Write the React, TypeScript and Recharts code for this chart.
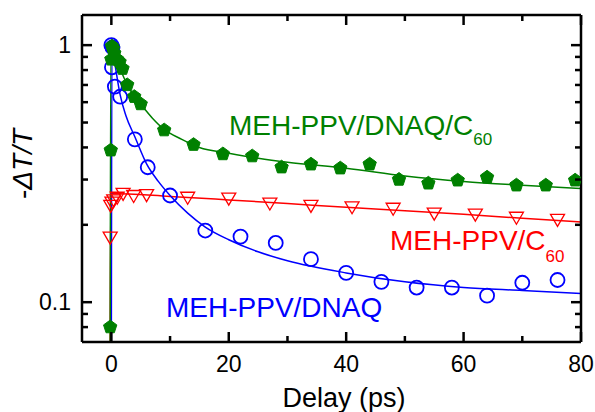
import React from 'react';
import { ComposedChart, Line, Scatter, XAxis, YAxis } from 'recharts';

const FONT = '"Liberation Sans", Arial, sans-serif';
const GREEN = '#008000';
const BLUE = '#0000ff';
const RED = '#ff0000';

// measured points: MEH-PPV/DNAQ/C60
const greenX = [-0.2, -0.1, 0, 0.1, 0.3, 0.5, 1, 1.4, 1.9, 2.7, 3.9, 5, 9, 14, 19, 24, 29, 34, 39, 44, 49, 54, 59, 64, 69, 74, 79];
const greenY = [0.08, 0.39, 0.88, 0.99, 0.97, 0.93, 0.88, 0.86, 0.81, 0.7, 0.63, 0.59, 0.467, 0.41, 0.377, 0.37, 0.335, 0.344, 0.332, 0.344, 0.3, 0.29, 0.298, 0.306, 0.285, 0.285, 0.298];

// measured points: MEH-PPV/DNAQ
const blueX = [0, 0.2, 0.1, 0.6, 1.5, 4, 6.2, 10, 16, 22, 28, 34, 40, 46, 52, 58, 64, 70, 76];
const blueY = [1.0, 0.98, 0.82, 0.69, 0.63, 0.43, 0.335, 0.26, 0.19, 0.18, 0.17, 0.147, 0.13, 0.12, 0.114, 0.114, 0.106, 0.119, 0.122];

// measured points: MEH-PPV/C60
const redX = [-0.2, -0.1, 0.1, 0.4, 1, 2, 3.8, 6, 13, 20, 27, 34, 41, 48, 55, 62, 69, 76];
const redY = [0.179, 0.238, 0.245, 0.25, 0.256, 0.265, 0.26, 0.262, 0.256, 0.254, 0.243, 0.238, 0.235, 0.232, 0.222, 0.22, 0.214, 0.21];

// fit curves
const greenFitX = [-0.2, -0.1, 0.5, 1, 2, 3, 4, 5, 7, 9, 12, 15, 20, 25, 30, 40, 50, 60, 70, 80];
const greenFitY = [0.07, 0.98, 0.93, 0.87, 0.76, 0.68, 0.63, 0.59, 0.52, 0.47, 0.43, 0.4, 0.38, 0.363, 0.35, 0.332, 0.31, 0.295, 0.285, 0.277];
const blueFitX = [0, 0.1, 0.7, 1.5, 2.5, 4, 6, 8, 10, 13, 16, 20, 25, 30, 40, 50, 60, 70, 80];
const blueFitY = [0.07, 1.0, 0.82, 0.64, 0.53, 0.44, 0.345, 0.295, 0.26, 0.222, 0.196, 0.175, 0.157, 0.145, 0.13, 0.12, 0.114, 0.111, 0.108];
const redFitX = [-0.2, -0.1, 10, 20, 30, 40, 50, 60, 70, 80];
const redFitY = [0.07, 0.265, 0.258, 0.25, 0.242, 0.234, 0.227, 0.22, 0.212, 0.205];

const xTicks = [0, 10, 20, 30, 40, 50, 60, 70, 80];
const xLabels = [0, 20, 40, 60, 80];
const yTicks = [0.08, 0.09, 0.1, 0.2, 0.3, 0.4, 0.5, 0.6, 0.7, 0.8, 0.9, 1];
const yLabels: Record<string, string> = { '1': '1', '0.1': '0.1' };

const zip = (xs: number[], ys: number[]) => xs.map((x, i) => ({ x, y: ys[i] }));

const Pentagon = (props: any) => {
  const { cx, cy } = props;
  const r = 7;
  const pts = [0, 1, 2, 3, 4]
    .map((i) => {
      const a = -Math.PI / 2 + (i * 2 * Math.PI) / 5;
      return `${cx + r * Math.cos(a)},${cy + r * Math.sin(a)}`;
    })
    .join(' ');
  return <polygon points={pts} fill={GREEN} stroke={GREEN} strokeWidth={1} />;
};

const OpenCircle = (props: any) => (
  <circle cx={props.cx} cy={props.cy} r={7} fill="none" stroke={BLUE} strokeWidth={1.8} />
);

const DownTriangle = (props: any) => {
  const { cx, cy } = props;
  return (
    <polygon
      points={`${cx - 7},${cy - 5} ${cx + 7},${cy - 5} ${cx},${cy + 7}`}
      fill="none"
      stroke={RED}
      strokeWidth={1.3}
    />
  );
};

const xTick = (side: 'bottom' | 'top') => (props: any) => {
  const { x, y, payload } = props;
  const v = payload.value;
  const major = xLabels.includes(v);
  const len = major ? 10 : 6;
  const dir = side === 'bottom' ? -1 : 1;
  return (
    <g>
      <line x1={x} x2={x} y1={y} y2={y + dir * len} stroke="#000" strokeWidth={2.5} />
      {side === 'bottom' && major && (
        <text x={x} y={y + 30} textAnchor="middle" fontSize={23} fontFamily={FONT} fill="#000">
          {v}
        </text>
      )}
    </g>
  );
};

const yTick = (side: 'left' | 'right') => (props: any) => {
  const { x, y, payload } = props;
  const v = payload.value;
  const label = yLabels[String(v)];
  const len = label ? 10 : 6;
  const dir = side === 'left' ? 1 : -1;
  return (
    <g>
      <line x1={x} x2={x + dir * len} y1={y} y2={y} stroke="#000" strokeWidth={2.5} />
      {side === 'left' && label && (
        <text x={x - 11} y={y + 8} textAnchor="end" fontSize={23} fontFamily={FONT} fill="#000">
          {label}
        </text>
      )}
    </g>
  );
};

const axisLine = { stroke: '#000', strokeWidth: 2.5 };
const xDomain: [number, number] = [-5, 80];
const yDomain: [number, number] = [0.07, 1.31];

export default function App() {
  return (
    <div style={{ position: 'absolute', left: 0, top: 0, width: 595, height: 412, background: '#fff' }}>
      <ComposedChart width={595} height={412} margin={{ top: 0, right: 0, bottom: 0, left: 0 }}>
        <XAxis xAxisId="b" dataKey="x" type="number" domain={xDomain} ticks={xTicks} interval={0}
          allowDataOverflow height={70} axisLine={axisLine} tickLine={false} tickSize={0} tickMargin={0}
          tick={xTick('bottom')} />
        <XAxis xAxisId="t" orientation="top" dataKey="x" type="number" domain={xDomain} ticks={xTicks}
          interval={0} allowDataOverflow height={15} axisLine={axisLine} tickLine={false} tickSize={0}
          tickMargin={0} tick={xTick('top')} />
        <YAxis yAxisId="l" dataKey="y" type="number" scale="log" domain={yDomain} ticks={yTicks}
          interval={0} allowDataOverflow width={82} axisLine={axisLine} tickLine={false} tickSize={0}
          tickMargin={0} tick={yTick('left')} />
        <YAxis yAxisId="r" orientation="right" dataKey="y" type="number" scale="log" domain={yDomain}
          ticks={yTicks} interval={0} allowDataOverflow width={14} axisLine={axisLine} tickLine={false}
          tickSize={0} tickMargin={0} tick={yTick('right')} />

        <Line xAxisId="b" yAxisId="l" data={zip(redFitX, redFitY)} dataKey="y" type="monotone"
          stroke={RED} strokeWidth={1.5} dot={false} isAnimationActive={false} />
        <Scatter xAxisId="b" yAxisId="l" data={zip(redX, redY)} dataKey="y" shape={DownTriangle}
          isAnimationActive={false} />
        <Line xAxisId="b" yAxisId="l" data={zip(blueFitX, blueFitY)} dataKey="y" type="monotone"
          stroke={BLUE} strokeWidth={1.5} dot={false} isAnimationActive={false} />
        <Scatter xAxisId="b" yAxisId="l" data={zip(blueX, blueY)} dataKey="y" shape={OpenCircle}
          isAnimationActive={false} />
        <Line xAxisId="b" yAxisId="l" data={zip(greenFitX, greenFitY)} dataKey="y" type="monotone"
          stroke={GREEN} strokeWidth={1.5} dot={false} isAnimationActive={false} />
        <Scatter xAxisId="b" yAxisId="l" data={zip(greenX, greenY)} dataKey="y" shape={Pentagon}
          isAnimationActive={false} />
      </ComposedChart>

      <svg width={595} height={412} style={{ position: 'absolute', left: 0, top: 0, pointerEvents: 'none' }}
        fontFamily={FONT}>
        <text x={229} y={135} fontSize={28} fill={GREEN}>
          MEH-PPV/DNAQ/C<tspan fontSize={17} dy={10}>60</tspan>
        </text>
        <text x={390} y={250} fontSize={28} fill={RED}>
          MEH-PPV/C<tspan fontSize={17} dy={12}>60</tspan>
        </text>
        <text x={166} y={317} fontSize={28} fill={BLUE}>
          MEH-PPV/DNAQ
        </text>
        <text x={32} y={164} fontSize={28} fill="#000" textAnchor="middle" transform="rotate(-90 32 164)">
          -<tspan fontStyle="italic">ΔT/T</tspan>
        </text>
        <text x={344} y={407} fontSize={27} fill="#000" textAnchor="middle">
          Delay (ps)
        </text>
      </svg>
    </div>
  );
}
